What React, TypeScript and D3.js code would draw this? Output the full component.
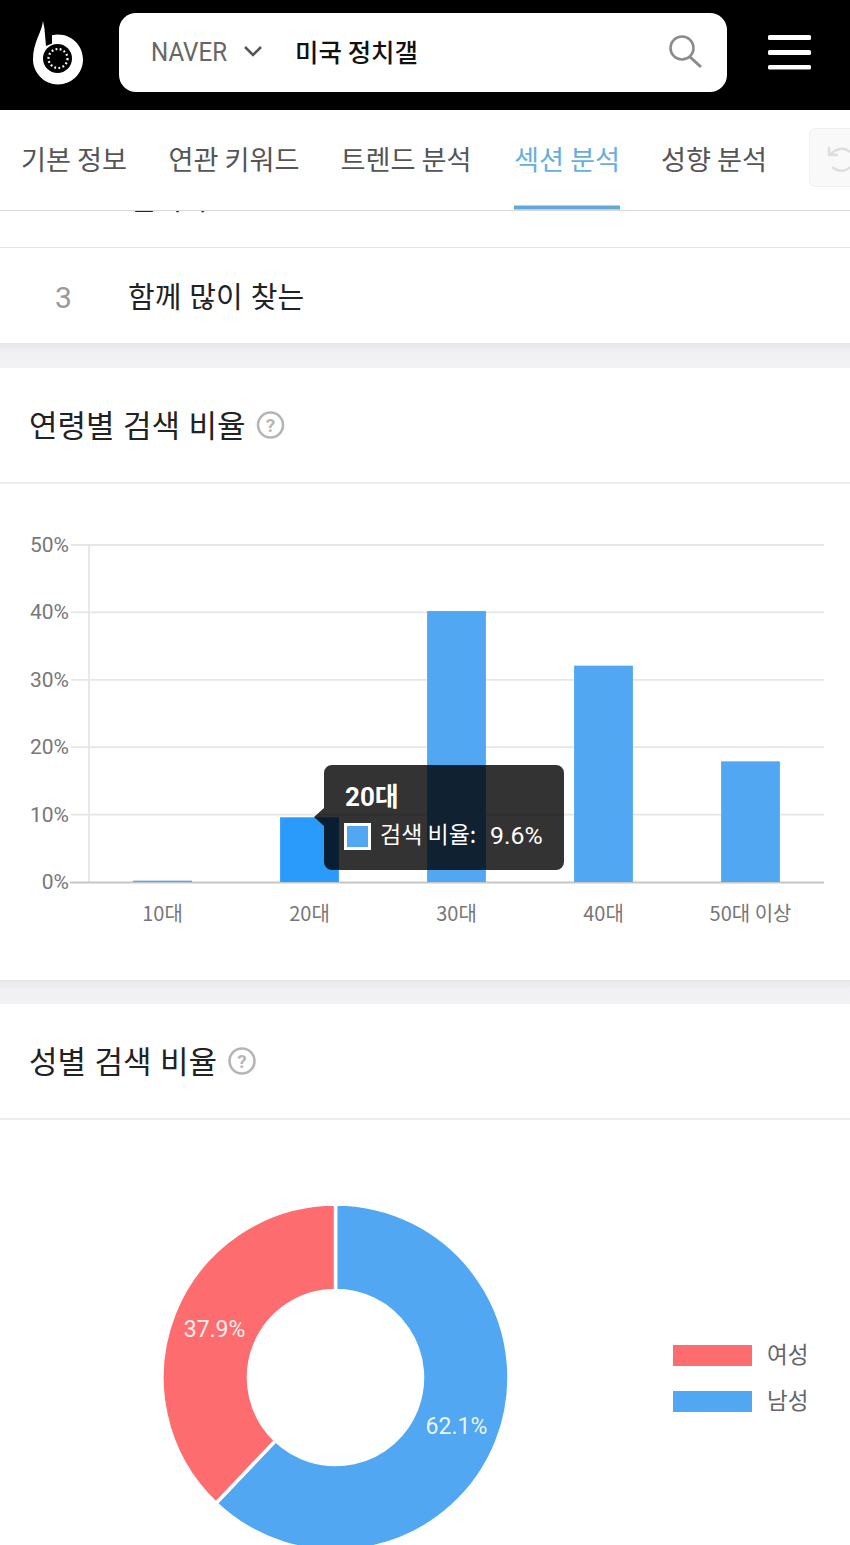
import React from "react";
import * as d3 from "d3";

const ageCategories = ["10대", "20대", "30대", "40대", "50대 이상"];
const ageValues = [0.2, 9.6, 40.2, 32.1, 17.9];
const yTicks = [0, 10, 20, 30, 40, 50];
const genderLabels = ["남성", "여성"];
const genderValues = [62.1, 37.9];
const navTabs = [
  { label: "기본 정보", x: 74 },
  { label: "연관 키워드", x: 234 },
  { label: "트렌드 분석", x: 406 },
  { label: "섹션 분석", x: 567 },
  { label: "성향 분석", x: 714 },
];
const legendEntries = ["여성", "남성"];

const KR = "'Noto Sans CJK KR', 'Noto Sans', sans-serif";
const RB = "Roboto, 'Noto Sans CJK KR', sans-serif";
const BLUE = "#51a7f2";
const RED = "#fd6d70";

export default function App() {
  const x = d3.scaleBand<string>().domain(ageCategories).range([89, 824]).paddingInner(0.6).paddingOuter(0.3);
  const y = d3.scaleLinear().domain([0, 50]).range([882, 545]);
  const pie = d3.pie<number>().sort(null)(genderValues);
  const arc = d3.arc<d3.PieArcDatum<number>>().innerRadius(87).outerRadius(173.5);
  const cx = 335.5, cy = 1377.5;

  return (
    <svg width={850} height={1545} viewBox="0 0 850 1545" style={{ position: "absolute", left: 0, top: 0, background: "#fff" }}>
      <defs>
        <linearGradient id="sh" x1="0" y1="0" x2="0" y2="1">
          <stop offset="0" stopColor="#e6e6ea" />
          <stop offset="0.4" stopColor="#f1f1f4" />
          <stop offset="1" stopColor="#f2f2f5" />
        </linearGradient>
      </defs>
      {/* list rows */}
      <rect x={0} y={343} width={850} height={25} fill="url(#sh)" />
      <rect x={0} y={980} width={850} height={24} fill="url(#sh)" />
      <line x1={0} x2={850} y1={247.5} y2={247.5} stroke="#e4e4e4" />
      <text x={129} y={209.5} fontFamily={KR} fontSize={29} fill="#222">일치하</text>
      <text x={63.5} y={308} textAnchor="middle" fontFamily={RB} fontSize={30} fill="#999">3</text>
      <text x={128} y={308} fontFamily={KR} fontSize={29} wordSpacing={1.5} fill="#222">함께 많이 찾는</text>

      {/* header */}
      <rect x={0} y={110} width={850} height={100} fill="#fff" />
      <line x1={0} x2={850} y1={210.5} y2={210.5} stroke="#d8d8d8" />
      <rect x={0} y={0} width={850} height={110} fill="#000" />
      <path d="M43 21 C42 32 33 42 33 59.5 C33 73 44.5 84.5 58 84.5 C71.8 84.5 83 73.3 83 59.5 C83 45.7 71.8 34.5 58 34.5 C54 34.5 50 35.5 46 37 C45 31 44 26 43 21 Z" fill="#fff" />
      <path d="M44.6 30 L52 30 L52 43.5 L46 46 Z" fill="#000" />
      <circle cx={57.5} cy={58.5} r={14.5} fill="#000" />
      <circle cx={58} cy={58.5} r={9.5} fill="none" stroke="#fff" strokeWidth={2.2} strokeDasharray="1.8 2.4" />
      <rect x={119} y={13} width={608} height={79} rx={17} fill="#fff" />
      <text x={151} y={61} fontFamily={RB} fontSize={26} fill="#666" textLength={76} lengthAdjust="spacingAndGlyphs">NAVER</text>
      <path d="M245 47 L253 55 L261 47" fill="none" stroke="#555" strokeWidth={2.5} />
      <text x={295} y={62} fontFamily={KR} fontSize={25.5} fontWeight={500} fill="#111">미국 정치갤</text>
      <circle cx={682} cy={48} r={11.5} fill="none" stroke="#8b8b8b" strokeWidth={2.6} />
      <line x1={690} y1={57} x2={701} y2={67} stroke="#8b8b8b" strokeWidth={3} />
      <rect x={768} y={35} width={43} height={5} rx={1.5} fill="#fff" />
      <rect x={768} y={50} width={43} height={5} rx={1.5} fill="#fff" />
      <rect x={768} y={65} width={43} height={4.5} rx={1.5} fill="#fff" />

      {navTabs.map((t, i) => (
        <text key={t.label} x={t.x} y={170} textAnchor="middle" fontFamily={KR} fontSize={27.2} fill={i === 3 ? "#67aedd" : "#555"}>{t.label}</text>
      ))}
      <rect x={514} y={205.5} width={106} height={4} fill="#5fa8dc" />
      <rect x={809.5} y={128.5} width={60} height={58} rx={6} fill="#f9f9f9" stroke="#efefef" />
      <path d="M829 147 L829 155 L838 155 M830 155 C836 148 845 147 850 152 M832 167 C838 172 846 172 850 167" fill="none" stroke="#dedede" strokeWidth={2.5} />

      {/* age section */}
      <text x={29} y={437} fontFamily={KR} fontSize={31} wordSpacing={1.5} fill="#222">연령별 검색 비율</text>
      <circle cx={270.5} cy={425} r={12.5} fill="none" stroke="#b5b5b5" strokeWidth={2.6} />
      <text x={270.5} y={432} textAnchor="middle" fontFamily={RB} fontWeight={700} fontSize={19} fill="#b5b5b5">?</text>
      <line x1={0} x2={850} y1={483} y2={483} stroke="#dcdcdc" />

      {yTicks.filter((t) => t > 0).map((t) => (
        <line key={t} x1={71} x2={824} y1={y(t)} y2={y(t)} stroke="#e6e6e6" strokeWidth={1.8} />
      ))}
      <line x1={89} x2={89} y1={545} y2={882} stroke="#e6e6e6" strokeWidth={1.8} />
      <line x1={70} x2={824} y1={882.5} y2={882.5} stroke="#c6c6c6" strokeWidth={2} />
      {yTicks.map((t) => (
        <text key={t} x={69} y={y(t) + 7} textAnchor="end" fontFamily={RB} fontSize={21} fill="#777">{t}%</text>
      ))}
      {ageCategories.map((c, i) => (
        <rect key={c} x={x(c)} y={y(ageValues[i])} width={x.bandwidth()} height={882 - y(ageValues[i])} fill={i === 1 ? "#2a9bfb" : BLUE} />
      ))}
      {ageCategories.map((c) => (
        <text key={c} x={x(c)! + x.bandwidth() / 2} y={921} textAnchor="middle" fontFamily={KR} fontSize={20} fill="#777">{c}</text>
      ))}

      {/* tooltip */}
      <g>
        <path d="M332 765 H556 a8 8 0 0 1 8 8 V862 a8 8 0 0 1 -8 8 H332 a8 8 0 0 1 -8 -8 V826 L314 817 L324 808 V773 a8 8 0 0 1 8 -8 Z" fill="#000" fillOpacity={0.8} />
        <text x={345} y={806} fontFamily={RB} fontWeight={700} fontSize={26} fill="#fff">20<tspan fontFamily={KR} fontWeight={700}>대</tspan></text>
        <rect x={345.5} y={824.5} width={24} height={24} fill={BLUE} stroke="#fff" strokeWidth={3} />
        <text x={380} y={843} fontFamily={KR} fontSize={23} fill="#fff">검색 비율:</text>
        <text x={490} y={844} fontFamily={RB} fontSize={24.8} fill="#fff">9.6%</text>
      </g>

      {/* gender section */}
      <text x={29} y={1073} fontFamily={KR} fontSize={31} wordSpacing={1.5} fill="#222">성별 검색 비율</text>
      <circle cx={242} cy={1061} r={12.5} fill="none" stroke="#b5b5b5" strokeWidth={2.6} />
      <text x={242} y={1068} textAnchor="middle" fontFamily={RB} fontWeight={700} fontSize={19} fill="#b5b5b5">?</text>
      <line x1={0} x2={850} y1={1119} y2={1119} stroke="#dcdcdc" />

      <g transform={`translate(${cx},${cy})`}>
        {pie.map((p, i) => (
          <path key={genderLabels[i]} d={arc(p) ?? ""} fill={i === 0 ? BLUE : RED} stroke="#fff" strokeWidth={3.5} />
        ))}
        {pie.map((p, i) => {
          const [a, b] = arc.centroid(p);
          return (
            <text key={i} x={a} y={b + 8} textAnchor="middle" fontFamily={RB} fontSize={23} fill="#fff" fillOpacity={0.9}>{genderValues[i]}%</text>
          );
        })}
      </g>

      {legendEntries.map((l, i) => (
        <g key={l}>
          <rect x={673} y={1345 + i * 46} width={79} height={21} fill={i === 0 ? RED : BLUE} />
          <text x={767} y={1363 + i * 46} fontFamily={KR} fontSize={22.5} fill="#666">{l}</text>
        </g>
      ))}
    </svg>
  );
}
